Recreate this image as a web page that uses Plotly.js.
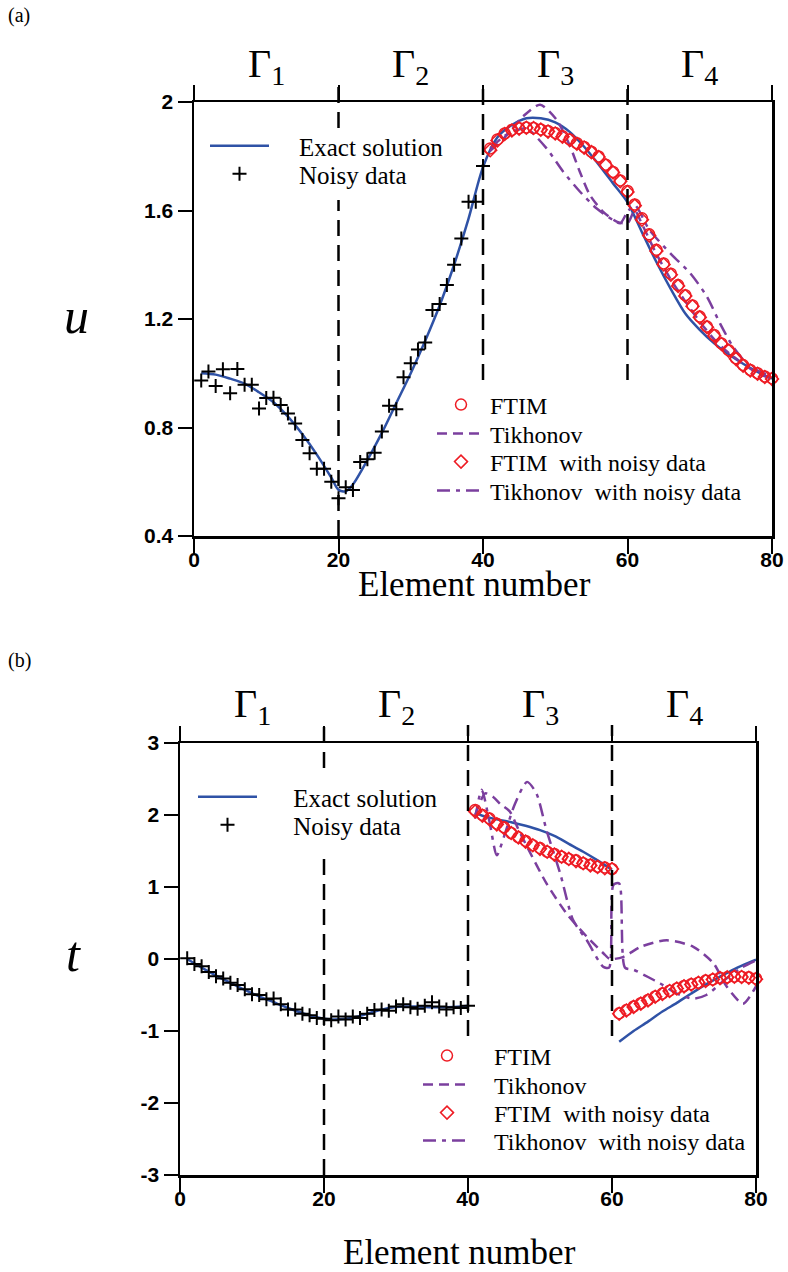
<!DOCTYPE html>
<html>
<head>
<meta charset="utf-8">
<script src="https://cdn.plot.ly/plotly-3.0.1.min.js"></script>
<style>html,body{margin:0;padding:0;background:#fff;}</style>
</head>
<body>
<div id="chart" style="width:788px;height:1272px;"></div>
<script>
// ---------- panel (a): u along the boundary ----------
const uExactX = [1,3,5,7,9,11,13,15,17,19,20,21,22,24,26,28,30,32,34,36,38,40,42,44,46,48,50,52,54,56,58,60,62,64,66,68,70,72,74,76,78,80];
const uExact  = [1.0,0.995,0.98,0.962,0.93,0.893,0.84,0.775,0.70,0.615,0.57,0.565,0.59,0.68,0.78,0.89,1.0,1.12,1.25,1.40,1.57,1.76,1.87,1.915,1.94,1.94,1.925,1.89,1.835,1.77,1.70,1.63,1.52,1.41,1.31,1.22,1.16,1.11,1.07,1.035,1.005,0.98];

const noisyX = [1,2,3,4,5,6,7,8,9,10,11,12,13,14,15,16,17,18,19,20,21,22,23,24,25,26,27,28,29,30,31,32,33,34,35,36,37,38,39,40];
const uNoisy = [0.973,1.006,0.953,1.015,0.926,1.016,0.958,0.958,0.87,0.909,0.91,0.883,0.852,0.815,0.754,0.705,0.648,0.648,0.60,0.539,0.58,0.57,0.673,0.683,0.707,0.785,0.88,0.867,0.985,1.037,1.088,1.113,1.233,1.255,1.325,1.40,1.497,1.632,1.632,1.764];

const ftimX = [41,42,43,44,45,46,47,48,49,50,51,52,53,54,55,56,57,58,59,60,61,62,63,64,65,66,67,68,69,70,71,72,73,74,75,76,77,78,79,80];
const uFtim = [1.829,1.862,1.884,1.897,1.903,1.906,1.904,1.899,1.893,1.886,1.874,1.862,1.848,1.834,1.817,1.799,1.769,1.742,1.711,1.672,1.622,1.571,1.512,1.455,1.405,1.367,1.325,1.288,1.25,1.209,1.172,1.141,1.11,1.085,1.055,1.03,1.012,1.0,0.988,0.981];
const uFtimNoisy = [1.822,1.858,1.882,1.895,1.902,1.905,1.904,1.898,1.891,1.884,1.872,1.86,1.846,1.832,1.815,1.797,1.767,1.74,1.708,1.668,1.618,1.566,1.508,1.451,1.401,1.363,1.322,1.285,1.247,1.206,1.17,1.138,1.108,1.083,1.053,1.028,1.01,0.998,0.986,0.979];

const uTikhX = [41,43,45.5,47.9,50.2,52,53.4,54.8,56.6,58.5,60,61,62,64,66,68,70,72,74,76,78,80];
const uTikh  = [1.82,1.87,1.946,1.99,1.934,1.84,1.743,1.657,1.596,1.559,1.553,1.60,1.55,1.44,1.345,1.265,1.19,1.125,1.075,1.035,1.0,0.98];
const uTikhNoisyX = [41,43,44.5,46,48.8,51.1,53.4,55.7,58,59,60,61,63,66,68.7,71,72.8,74.6,76.5,78.3,80];
const uTikhNoisy  = [1.83,1.875,1.895,1.903,1.829,1.743,1.67,1.608,1.565,1.553,1.595,1.62,1.53,1.44,1.368,1.282,1.184,1.098,1.037,1.006,0.99];

// ---------- panel (b): t along the boundary ----------
const tExactX = [1,3,5,7,9,11,13,15,17,19,21,23,25,27,29,31,33,35,37,39,40,null,
                 41,42,43.5,46,48,50,52,54,56,58,60,null,
                 61,63,65,67,69,71,73,75,77,79,80];
const tExact  = [0.0,-0.12,-0.23,-0.33,-0.43,-0.52,-0.6,-0.68,-0.75,-0.81,-0.84,-0.83,-0.79,-0.73,-0.68,-0.66,-0.66,-0.67,-0.67,-0.66,-0.65,null,
                 2.03,1.99,1.95,1.9,1.85,1.79,1.71,1.6,1.49,1.37,1.24,null,
                 -1.15,-1.0,-0.87,-0.73,-0.61,-0.48,-0.355,-0.245,-0.14,-0.05,-0.01];
const tNoisy = [0.01,-0.07,-0.10,-0.18,-0.24,-0.27,-0.33,-0.36,-0.42,-0.49,-0.50,-0.56,-0.55,-0.63,-0.70,-0.70,-0.76,-0.78,-0.82,-0.83,-0.85,-0.80,-0.84,-0.80,-0.82,-0.76,-0.71,-0.70,-0.72,-0.66,-0.63,-0.67,-0.69,-0.65,-0.60,-0.66,-0.70,-0.67,-0.68,-0.65];
const tFtim = [2.07,2.0,1.95,1.88,1.83,1.75,1.69,1.64,1.58,1.54,1.49,1.46,1.42,1.39,1.37,1.33,1.31,1.28,1.27,1.25,
               -0.755,-0.71,-0.66,-0.615,-0.57,-0.52,-0.48,-0.44,-0.41,-0.375,-0.35,-0.33,-0.30,-0.285,-0.26,-0.255,-0.245,-0.245,-0.255,-0.27];
const tFtimNoisy = [2.05,1.99,1.94,1.87,1.82,1.75,1.69,1.63,1.58,1.53,1.49,1.45,1.42,1.39,1.36,1.33,1.3,1.28,1.26,1.25,
                    -0.76,-0.715,-0.665,-0.62,-0.575,-0.525,-0.485,-0.445,-0.41,-0.38,-0.355,-0.33,-0.305,-0.285,-0.265,-0.255,-0.245,-0.25,-0.26,-0.28];
const tTikhX = [41,42.4,43.5,44.5,45.8,47,48.2,50.9,53.7,56.5,58.8,59.7,61.6,64,67.6,71.3,74.1,75.9,78.2,80];
const tTikh  = [2.0,2.30,2.25,2.15,2.05,1.8,1.56,1.05,0.63,0.31,0.08,0.0,0.03,0.17,0.26,0.17,-0.06,-0.38,-0.62,-0.38];
const tTikhNoisyX = [41,41.9,43,44,45,46.5,48.2,49.5,50.9,52.8,54.6,56.5,58.8,59.6,60.2,61,61.8,63,65,66.7,69,71.3,73.1,75.9,78,80];
const tTikhNoisy  = [1.95,2.35,1.9,1.44,1.7,2.15,2.46,2.3,1.79,1.19,0.54,0.26,-0.11,-0.12,1.03,1.05,-0.12,-0.15,-0.25,-0.34,-0.48,-0.55,-0.5,-0.27,-0.12,-0.02];

// ---------- axes, segments, labels ----------
const xTicks = [0,20,40,60,80];
const uTicks = [0.4,0.8,1.2,1.6,2];
const uTickText = ['0.4','0.8','1.2','1.6','2'];
const tTicks = [-3,-2,-1,0,1,2,3];
const tTickText = ['-3','-2','-1','0','1','2','3'];
const segCenters = [10,30,50,70];
const segNames = ['Γ<sub>1</sub>','Γ<sub>2</sub>','Γ<sub>3</sub>','Γ<sub>4</sub>'];
const seriesNames = ['Exact solution','Noisy data','FTIM','Tikhonov','FTIM  with noisy data','Tikhonov  with noisy data'];

const W = 788, H = 1272;
const px = v => v / W;
const py = v => 1 - v / H;
const nb = n => '\u00a0'.repeat(n);
const keep = s => s.replace(/ /g, '\u00a0');

const BLUE = '#2f52a6', PURPLE = '#7b3f9e', RED = '#ee1c24';
const serif = 'Liberation Serif, Times New Roman, serif';
const sans = 'Liberation Sans, Arial, sans-serif';

// one legend per entry so every entry sits on its own row
function legendBox(left, cy, size, iw) {
  return {x: px(left), y: py(cy), xanchor: 'left', yanchor: 'middle',
          bgcolor: 'rgba(0,0,0,0)', borderwidth: 0, itemwidth: iw,
          font: {family: serif, size: size, color: '#000'}};
}

function panelTraces(xa, ya, ex, ey, nx, ny, fy, fny, tx, ty, tnx, tny, firstLegend, lead, gap) {
  const L = k => 'legend' + (firstLegend + k === 1 ? '' : (firstLegend + k));
  return [
    {x: ex, y: ey, xaxis: xa, yaxis: ya, type: 'scatter', mode: 'lines', name: nb(lead) + seriesNames[0],
     line: {color: BLUE, width: 2.5, shape: 'spline', smoothing: 0.8}, connectgaps: false, legend: L(0)},
    {x: nx, y: ny, xaxis: xa, yaxis: ya, type: 'scatter', mode: 'markers', name: nb(lead) + seriesNames[1],
     marker: {symbol: 'cross-thin', size: 10, color: '#000', line: {color: '#000', width: 2}}, legend: L(1), cliponaxis: false},
    {x: tx, y: ty, xaxis: xa, yaxis: ya, type: 'scatter', mode: 'lines', name: nb(gap) + keep(seriesNames[3]),
     line: {color: PURPLE, width: 2.5, dash: '10px,6px', shape: 'spline', smoothing: 0.7}, legend: L(3)},
    {x: tnx, y: tny, xaxis: xa, yaxis: ya, type: 'scatter', mode: 'lines', name: nb(gap) + keep(seriesNames[5]),
     line: {color: PURPLE, width: 2.5, dash: '13px,6px,4px,6px', shape: 'spline', smoothing: 0.7}, legend: L(5)},
    {x: ftimX, y: fny, xaxis: xa, yaxis: ya, type: 'scatter', mode: 'markers', name: nb(gap) + keep(seriesNames[4]),
     marker: {symbol: 'diamond-open', size: 10, color: RED, line: {color: RED, width: 1.5}}, legend: L(4), cliponaxis: false},
    {x: ftimX, y: fy, xaxis: xa, yaxis: ya, type: 'scatter', mode: 'markers', name: nb(gap) + keep(seriesNames[2]),
     marker: {symbol: 'circle-open', size: 11, color: RED, line: {color: RED, width: 1.5}}, legend: L(2), cliponaxis: false}
  ];
}

const data = [].concat(
  panelTraces('x', 'y', uExactX, uExact, noisyX, uNoisy, uFtim, uFtimNoisy, uTikhX, uTikh, uTikhNoisyX, uTikhNoisy, 1, 4, 0),
  panelTraces('x2', 'y2', tExactX, tExact, noisyX, tNoisy, tFtim, tFtimNoisy, tTikhX, tTikh, tTikhNoisyX, tTikhNoisy, 7, 5, 3)
);

function xAxis(dom, anchor) {
  return {domain: dom, anchor: anchor, range: [0, 80], tickvals: xTicks, ticktext: xTicks.map(String),
          ticks: 'outside', ticklen: 15, tickwidth: 2, tickcolor: '#000',
          showline: true, linewidth: 2.5, linecolor: '#000', mirror: 'ticks',
          showgrid: false, zeroline: false, ticklabelstandoff: -12,
          tickfont: {family: sans, size: 21, color: '#000', weight: 'bold'}};
}
function yAxis(dom, anchor, range, vals, text) {
  return {domain: dom, anchor: anchor, range: range, tickvals: vals, ticktext: text,
          ticks: 'outside', ticklen: 14, tickwidth: 2, tickcolor: '#000',
          showline: true, linewidth: 2.5, linecolor: '#000', mirror: true,
          showgrid: false, zeroline: false,
          tickfont: {family: sans, size: 21, color: '#000', weight: 'bold'}};
}

// dashed segment boundaries: [x ref, element, top px, bottom px]
const dashSegs = [
  ['x', 20, 85, 128], ['x', 20, 200, 536], ['x', 40, 85, 380], ['x', 60, 85, 380],
  ['x2', 20, 725, 768], ['x2', 20, 855, 1175], ['x2', 40, 725, 1036], ['x2', 60, 725, 1036]
];
const shapes = dashSegs.map(s => ({type: 'line', xref: s[0], yref: 'paper',
  x0: s[1], x1: s[1], y0: py(s[3]), y1: py(s[2]),
  line: {color: '#000', width: 2.5, dash: '16px,9px'}}));

function note(x, y, text, size, extra) {
  return Object.assign({xref: 'paper', yref: 'paper', x: px(x), y: py(y), text: text, showarrow: false,
    xanchor: 'center', yanchor: 'middle', font: {family: serif, size: size, color: '#000'}}, extra || {});
}

const annotations = [];
segCenters.forEach((c, i) => {
  annotations.push({xref: 'x', yref: 'paper', x: c, y: py(66), text: segNames[i], showarrow: false,
    xanchor: 'center', yanchor: 'middle', font: {family: serif, size: 40, color: '#000'}});
  annotations.push({xref: 'x2', yref: 'paper', x: c, y: py(706), text: segNames[i], showarrow: false,
    xanchor: 'center', yanchor: 'middle', font: {family: serif, size: 40, color: '#000'}});
});
annotations.push(
  note(76, 316, 'u', 50, {font: {family: serif, size: 50, color: '#000', style: 'italic'}}),
  note(73, 954, 't', 50, {font: {family: serif, size: 50, color: '#000', style: 'italic'}}),
  note(474, 584, 'Element number', 35),
  note(459, 1252, 'Element number', 35),
  note(6, 16, '(a)', 20, {xanchor: 'left'}),
  note(6, 660, '(b)', 20, {xanchor: 'left'})
);

const layout = {
  width: W, height: H, margin: {l: 0, r: 0, t: 0, b: 0},
  paper_bgcolor: '#fff', plot_bgcolor: '#fff',
  font: {family: serif, color: '#000'},
  xaxis: xAxis([px(194), px(772)], 'y'),
  yaxis: yAxis([py(536), py(102)], 'x', [0.4, 2], uTicks, uTickText),
  xaxis2: xAxis([px(180), px(756)], 'y2'),
  yaxis2: yAxis([py(1175), py(743)], 'x2', [-3, 3], tTicks, tTickText),
  shapes: shapes,
  annotations: annotations,
  showlegend: true,
  legend:   legendBox(205, 146, 25, 59),
  legend2:  legendBox(205, 174, 25, 59),
  legend3:  legendBox(432, 405, 24, 48),
  legend4:  legendBox(432, 434, 24, 48),
  legend5:  legendBox(432, 462, 24, 48),
  legend6:  legendBox(432, 491, 24, 48),
  legend7:  legendBox(193, 797, 25, 59),
  legend8:  legendBox(193, 825, 25, 59),
  legend9:  legendBox(418, 1056, 24, 48),
  legend10: legendBox(418, 1085, 24, 48),
  legend11: legendBox(418, 1113, 24, 48),
  legend12: legendBox(418, 1141, 24, 48)
};

Plotly.newPlot('chart', data, layout, {staticPlot: true, displayModeBar: false});
</script>
</body>
</html>
